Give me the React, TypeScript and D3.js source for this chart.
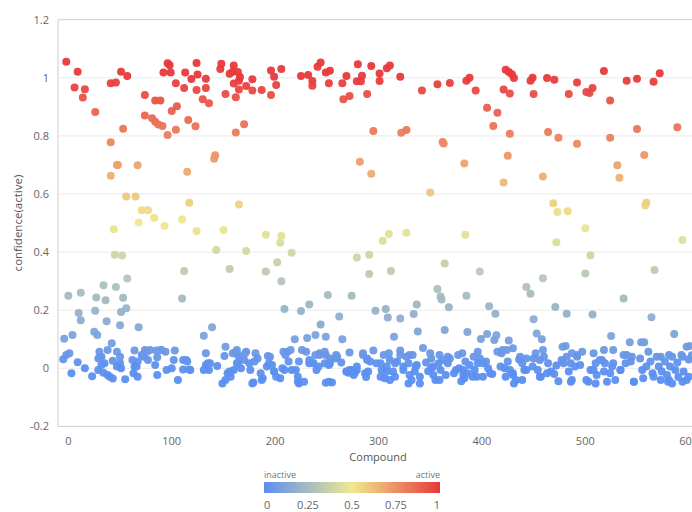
import React from "react";
import * as d3 from "d3";

// [compound, confidence(active)] pairs, grouped by compound range
const compounds000: [number, number][] = [
  [-4, 0.102], [-2, 1.055], [0, 0.25], [4, 0.115], [6, 0.967], [9, 1.021], [10, 0.19], [12, 0.26],
  [12, 0.165], [14, 0.932], [16, 0.961], [25, 0.126], [26, 0.882], [26, 0.198], [27, 0.244], [28, 0.115],
  [34, 0.286], [36, 0.234], [37, 0.162], [41, 0.981], [41, 0.778], [41, 0.663], [42, 0.086], [44, 0.479],
  [45, 0.391], [46, 0.28], [46, 0.984], [47, 0.7], [48, 0.7], [50, 0.148], [51, 0.194], [51, 1.021],
  [52, 0.388], [53, 0.243], [53, 0.825], [56, 0.591], [56, 0.207], [57, 1.006], [57, 0.309], [65, 0.591],
  [67, 0.699], [68, 0.502], [68, 0.141], [71, 0.544], [74, 0.87], [74, 0.941], [77, 0.544], [81, 0.861],
  [83, 0.518], [84, 0.922], [84, 0.849], [87, 0.839], [89, 0.922], [91, 0.834], [92, 1.018], [93, 0.49],
  [96, 0.803], [96, 1.05], [98, 1.043], [99, 1.018],
  [1, 0.052], [-2, 0.046], [-5, 0.031], [9, 0.021], [3, -0.017], [16, 0.0], [23, -0.027], [30, 0.057],
  [32, 0.04], [29, 0.034], [38, 0.063], [47, 0.057], [43, 0.026], [35, 0.017], [32, 0.011], [29, -0.006],
  [34, -0.015], [38, -0.023], [43, -0.035], [50, 0.017], [47, 0.006], [51, 0.0], [55, -0.038], [62, 0.029],
  [64, 0.061], [67, 0.023], [64, 0.006], [63, -0.017], [67, -0.029], [74, 0.063], [76, 0.057], [79, 0.063],
  [85, 0.061], [86, 0.038], [84, 0.011], [90, 0.063], [94, 0.057], [73, 0.04], [71, 0.046], [86, -0.023],
  [89, 0.063], [72, 0.044], [31, 0.04], [40, -0.029], [50, 0.04], [66, 0.006], [77, 0.029], [95, -0.006],
];

const compounds100: [number, number][] = [
  [100, 0.886], [104, 0.981], [104, 0.821], [105, 0.902], [110, 0.512], [110, 0.24], [112, 0.965], [112, 0.335],
  [113, 1.018], [115, 0.677], [116, 0.855], [117, 0.57], [119, 0.996], [123, 0.833], [124, 1.051], [124, 0.958],
  [124, 0.473], [125, 1.011], [130, 0.926], [131, 0.112], [133, 0.997], [133, 0.965], [136, 0.912], [139, 0.141],
  [141, 0.721], [142, 0.733], [143, 0.407], [147, 1.03], [148, 1.048], [150, 0.476], [152, 0.944], [152, 0.074],
  [156, 1.014], [156, 0.342], [159, 1.021], [160, 1.042], [160, 0.98], [162, 0.812], [162, 0.933], [164, 1.02],
  [165, 0.96], [165, 0.564], [165, 0.99], [166, 1.003], [170, 0.84], [172, 0.972], [172, 0.404], [178, 0.995],
  [178, 0.956], [187, 0.958], [191, 0.46], [191, 0.333], [196, 1.025], [196, 0.941], [199, 1.004],
  [103, 0.061], [100, 0.0], [106, -0.04], [111, -0.004], [111, 0.029], [115, 0.023], [117, -0.004], [118, -0.006],
  [114, 0.029], [133, 0.052], [151, 0.042], [159, 0.052], [162, 0.057], [164, 0.046], [165, 0.04], [172, 0.057],
  [170, 0.029], [135, 0.017], [136, -0.006], [131, -0.006], [144, 0.008], [154, -0.017], [160, -0.006], [157, -0.029],
  [152, -0.04], [149, -0.052], [164, 0.017], [167, 0.0], [175, 0.017], [176, -0.006], [180, 0.023], [181, 0.052],
  [183, 0.034], [178, -0.052], [186, -0.017], [188, -0.034], [193, 0.042], [194, 0.017], [197, 0.011], [199, -0.011],
  [133, 0.011], [137, 0.017], [163, 0.063], [179, -0.049], [187, -0.04], [102, 0.029], [156, -0.011], [163, 0.017],
  [171, 0.052], [192, 0.006], [195, 0.04], [199, -0.011],
];

const compounds200: [number, number][] = [
  [201, 0.975], [202, 0.365], [205, 0.432], [206, 0.455], [206, 1.03], [206, 0.3], [209, 0.204], [216, 0.398],
  [219, 0.1], [225, 1.006], [225, 0.197], [231, 0.104], [232, 1.01], [233, 0.22], [236, 0.989], [236, 0.973],
  [239, 0.115], [241, 1.038], [244, 0.151], [244, 1.053], [249, 1.018], [249, 0.109], [251, 0.252], [252, 0.981],
  [253, 1.024], [262, 0.178], [265, 0.981], [265, 0.1], [266, 0.926], [269, 1.006], [272, 0.937], [274, 0.25],
  [279, 0.988], [279, 0.381], [280, 1.047], [282, 0.711], [283, 0.988], [284, 1.007], [289, 0.944], [291, 0.391],
  [291, 0.325], [293, 0.67], [293, 1.041], [295, 0.817], [297, 0.198],
  [201, -0.029], [205, -0.034], [207, 0.0], [209, -0.006], [212, 0.057], [210, 0.046], [215, 0.063], [223, 0.023],
  [220, -0.006], [222, -0.029], [226, 0.063], [230, 0.057], [233, 0.017], [223, -0.052], [228, -0.046], [239, 0.046],
  [243, 0.052], [248, 0.057], [248, 0.017], [237, 0.017], [242, 0.006], [253, 0.017], [258, 0.034], [252, 0.011],
  [240, -0.006], [252, -0.046], [255, -0.049], [272, 0.054], [269, -0.011], [274, -0.006], [279, 0.006], [276, -0.023],
  [287, -0.017], [285, 0.046], [289, 0.034], [295, 0.061], [292, 0.023], [290, -0.011], [249, -0.05], [271, -0.015],
  [277, -0.015], [288, -0.03], [260, 0.04], [264, 0.02], [208, 0.057], [213, 0.023], [216, -0.006], [222, -0.046],
  [233, 0.029], [237, 0.017], [243, 0.046], [249, 0.046], [253, 0.034], [259, 0.046], [269, -0.011], [272, -0.006],
  [279, -0.006], [285, 0.052], [289, 0.029], [298, 0.017],
];

const compounds300: [number, number][] = [
  [301, 1.015], [301, 0.989], [304, 0.439], [307, 0.204], [308, 1.033], [309, 0.175], [310, 0.462], [311, 1.042],
  [312, 0.335], [315, 0.109], [321, 1.004], [321, 0.171], [322, 0.811], [327, 0.82], [327, 0.467], [334, 0.187],
  [337, 0.22], [338, 0.127], [342, 0.956], [343, 0.07], [350, 0.605], [357, 0.273], [357, 0.978], [360, 0.247],
  [361, 0.237], [362, 0.779], [363, 0.774], [364, 0.132], [364, 0.361], [368, 0.21], [369, 0.982], [383, 0.705],
  [384, 0.46], [385, 0.99], [385, 0.25], [386, 0.125], [388, 1.0], [394, 0.956], [398, 0.333], [399, 0.101],
  [302, 0.017], [303, -0.006], [302, -0.029], [306, -0.034], [311, -0.04], [310, 0.052], [311, 0.029], [308, 0.006],
  [314, -0.011], [318, 0.023], [316, -0.029], [321, 0.061], [324, 0.006], [327, 0.04], [330, 0.046], [329, 0.017],
  [330, -0.023], [332, -0.04], [329, -0.052], [337, 0.011], [335, -0.011], [340, -0.029], [340, -0.052], [351, 0.034],
  [351, 0.0], [353, -0.023], [355, -0.04], [359, 0.046], [362, 0.029], [369, 0.034], [367, 0.017], [360, -0.006],
  [359, -0.04], [365, -0.023], [373, -0.017], [381, 0.052], [386, -0.017], [393, -0.006], [391, -0.029], [383, -0.034],
  [396, 0.057], [398, 0.034], [396, 0.017], [378, 0.0], [380, -0.045], [388, 0.011], [384, 0.023], [377, 0.046],
  [346, 0.02], [348, -0.01], [305, 0.046], [308, -0.011], [316, 0.017], [321, 0.046], [324, -0.006], [333, 0.046],
  [336, 0.006], [350, 0.052], [353, 0.006], [358, 0.017], [367, 0.04], [375, -0.006], [382, -0.023], [382, -0.006],
  [392, 0.04], [395, -0.029],
];

const compounds400: [number, number][] = [
  [405, 0.897], [405, 0.118], [407, 0.214], [411, 0.834], [412, 0.097], [413, 0.188], [414, 0.114], [415, 0.88],
  [421, 0.64], [421, 0.96], [423, 1.028], [425, 0.732], [426, 1.02], [426, 0.096], [427, 0.946], [427, 0.807],
  [429, 1.012], [431, 0.999], [443, 0.28], [447, 0.99], [447, 0.257], [449, 1.0], [450, 0.944], [450, 0.169],
  [453, 0.12], [458, 0.1], [459, 0.66], [459, 0.31], [463, 0.999], [464, 0.813], [469, 0.568], [470, 0.993],
  [471, 0.211], [472, 0.434], [473, 0.538], [474, 0.794], [481, 0.077], [482, 0.188], [483, 0.541], [484, 0.944],
  [492, 0.984], [492, 0.773],
  [404, 0.023], [406, 0.0], [401, -0.029], [415, 0.057], [420, 0.063], [419, 0.052], [430, 0.069], [425, 0.023],
  [422, 0.0], [427, -0.006], [423, -0.029], [430, -0.017], [433, -0.04], [431, -0.052], [439, 0.017], [439, -0.04],
  [441, -0.006], [443, 0.034], [449, 0.006], [452, 0.052], [454, -0.006], [456, 0.029], [459, 0.063], [460, 0.04],
  [464, 0.017], [467, -0.011], [457, -0.029], [477, 0.029], [478, 0.074], [482, 0.04], [487, 0.052], [492, 0.046],
  [486, 0.017], [490, 0.006], [484, -0.011], [495, 0.011], [497, 0.057], [487, -0.04], [470, -0.02], [472, 0.01],
  [474, -0.045], [410, -0.02], [436, 0.03], [401, 0.017], [408, -0.017], [418, 0.006], [424, 0.063], [430, -0.023],
  [437, 0.04], [443, -0.006], [450, 0.034], [456, -0.029], [463, -0.017], [479, 0.017], [486, -0.046], [492, 0.04],
];

const compounds500: [number, number][] = [
  [500, 0.326], [500, 0.482], [501, 0.951], [504, 0.948], [505, 0.389], [507, 0.185], [507, 0.965], [518, 1.023],
  [524, 0.794], [524, 0.922], [525, 0.111], [531, 0.699], [533, 0.656], [537, 0.24], [540, 0.99], [543, 0.09],
  [550, 0.997], [550, 0.824], [554, 0.09], [557, 0.09], [557, 0.734], [558, 0.56], [559, 0.57], [564, 0.176],
  [566, 0.986], [567, 0.338], [572, 1.016], [586, 0.118], [589, 0.83], [594, 0.442], [601, 0.077],
  [508, 0.052], [510, 0.017], [505, -0.006], [511, -0.023], [503, -0.046], [510, -0.052], [518, 0.063], [516, 0.029],
  [519, 0.017], [518, -0.011], [527, 0.063], [526, 0.006], [524, -0.017], [529, -0.04], [534, -0.006], [537, 0.046],
  [545, 0.04], [544, 0.023], [539, 0.017], [547, -0.046], [553, 0.034], [555, -0.006], [556, -0.034], [561, 0.057],
  [563, 0.023], [565, -0.017], [569, 0.04], [571, 0.006], [573, -0.04], [574, -0.011], [577, 0.023], [579, -0.023],
  [581, 0.046], [584, 0.04], [582, 0.006], [581, -0.04], [584, -0.052], [594, 0.04], [595, -0.011], [594, -0.046],
  [598, 0.074], [600, 0.03], [603, 0.045], [598, -0.04], [589, 0.02], [590, -0.03], [501, -0.04], [508, -0.006],
  [514, 0.029], [521, -0.046], [527, 0.017], [534, -0.006], [540, 0.046], [547, -0.046], [559, 0.006], [566, -0.029],
  [573, 0.04], [580, -0.046], [587, -0.006], [593, 0.046], [600, -0.029],
];

const xTicks = [0, 100, 200, 300, 400, 500, 600];
const yTicks = [-0.2, 0, 0.2, 0.4, 0.6, 0.8, 1, 1.2];
const legendTicks = [0, 0.25, 0.5, 0.75, 1];
const colorStops = ["#5b8ff0", "#efe98f", "#e8393b"];

const W = 692;
const H = 512;
const plot = { left: 58, right: 698, top: 19.7, bottom: 426.4 };
const FONT = "'Open Sans', 'DejaVu Sans', sans-serif";

const fmt = (v: number) => String(Math.round(v * 100) / 100);

export default function App() {
  const points = [
    ...compounds000,
    ...compounds100,
    ...compounds200,
    ...compounds300,
    ...compounds400,
    ...compounds500,
  ];

  const x = d3.scaleLinear().domain([-10, 609]).range([plot.left, plot.right]);
  const y = d3.scaleLinear().domain([-0.2, 1.2]).range([plot.bottom, plot.top]);
  const color = d3
    .scaleLinear<string>()
    .domain([0, 0.5, 1])
    .range(colorStops)
    .interpolate(d3.interpolateRgb)
    .clamp(true);

  const legend = { x0: 264, x1: 440, y: 482, h: 11 };
  const lx = d3.scaleLinear().domain([0, 1]).range([legend.x0, legend.x1]);
  const gradStops = d3.range(0, 1.0001, 0.1);

  return (
    <svg
      width={W}
      height={H}
      style={{ position: "absolute", left: 0, top: 0, background: "#fff" }}
      fontFamily={FONT}
    >
      <defs>
        <linearGradient id="confGrad" x1="0" x2="1" y1="0" y2="0">
          {gradStops.map((t) => (
            <stop key={t} offset={t} stopColor={color(t)} />
          ))}
        </linearGradient>
        <clipPath id="plotClip">
          <rect x={plot.left} y={0} width={W - plot.left} height={plot.bottom + 6} />
        </clipPath>
      </defs>

      {/* horizontal grid */}
      {yTicks.map((t) => {
        const edge = t === yTicks[0] || t === yTicks[yTicks.length - 1];
        return (
          <line
            key={`g${t}`}
            x1={plot.left}
            x2={plot.right}
            y1={y(t)}
            y2={y(t)}
            stroke={edge ? "#cfcfcf" : "#ebebeb"}
            strokeWidth={1}
          />
        );
      })}
      <line x1={plot.left} x2={plot.left} y1={plot.top} y2={plot.bottom} stroke="#cfcfcf" />

      {/* y tick labels */}
      {yTicks.map((t) => (
        <text key={`yl${t}`} x={49} y={y(t)} dy="0.35em" textAnchor="end" fontSize={11} fill="#666">
          {fmt(t)}
        </text>
      ))}

      {/* x tick labels */}
      {xTicks.map((t) => (
        <text key={`xl${t}`} x={x(t)} y={445} textAnchor="middle" fontSize={11} fill="#666">
          {t}
        </text>
      ))}

      {/* points */}
      <g clipPath="url(#plotClip)">
        {points.map(([cx, cy], i) => (
          <circle key={i} cx={x(cx)} cy={y(cy)} r={4} fill={color(cy)} fillOpacity={0.95} />
        ))}
      </g>

      {/* axis titles */}
      <text x={378} y={461} textAnchor="middle" fontSize={11} fill="#555">
        Compound
      </text>
      <text
        transform={`translate(18,${(plot.top + plot.bottom) / 2}) rotate(-90)`}
        textAnchor="middle"
        dy="0.35em"
        fontSize={11.5}
        fill="#555"
      >
        confidence(active)
      </text>

      {/* colour legend */}
      <text x={legend.x0} y={478} fontSize={9} fill="#777">
        inactive
      </text>
      <text x={legend.x1} y={478} fontSize={9} fill="#777" textAnchor="end">
        active
      </text>
      <rect x={legend.x0} y={legend.y} width={legend.x1 - legend.x0} height={legend.h} fill="url(#confGrad)" />
      {legendTicks.map((t, i) => (
        <text
          key={`lt${t}`}
          x={lx(t)}
          y={509}
          fontSize={11}
          fill="#666"
          textAnchor={i === 0 ? "start" : i === legendTicks.length - 1 ? "end" : "middle"}
        >
          {fmt(t)}
        </text>
      ))}
    </svg>
  );
}
